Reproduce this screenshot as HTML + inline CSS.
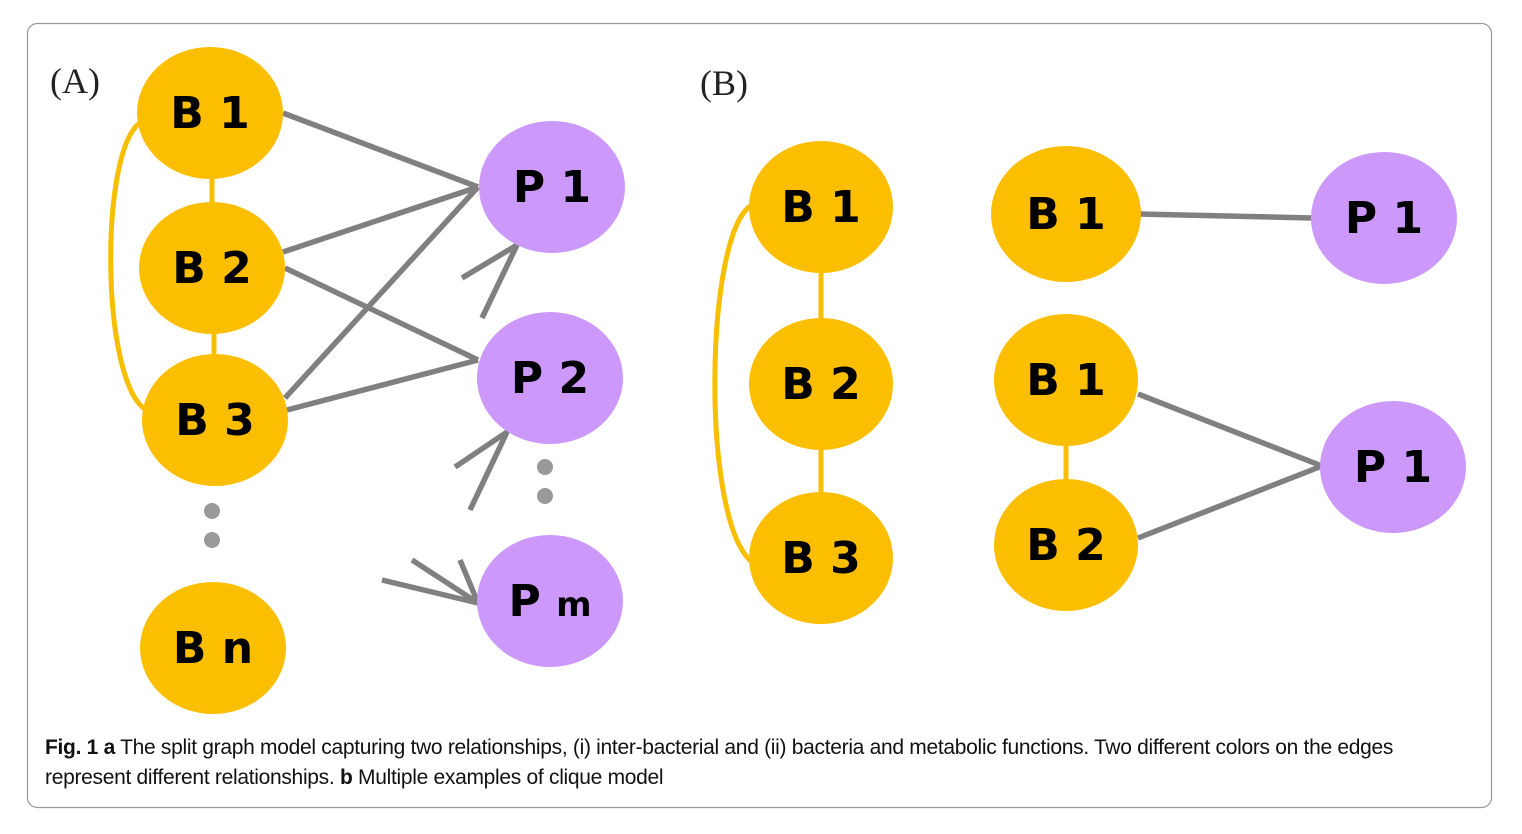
<!DOCTYPE html>
<html><head><style>
body{margin:0;background:#fff;width:1522px;height:834px;overflow:hidden;font-family:"Liberation Sans",sans-serif}
.cap{position:absolute;left:45px;top:733px;width:1420px;font-size:21px;line-height:30px;color:#111;letter-spacing:-0.3px}
</style></head><body>
<svg width="1522" height="834" style="position:absolute;left:0;top:0">
<rect x="27.5" y="23.5" width="1464" height="784" rx="10" fill="none" stroke="#999" stroke-width="1.2"/>
<g font-family="Liberation Serif" font-size="36" fill="#222">
<text x="50" y="93">(A)</text><text x="700" y="95">(B)</text></g>
<g stroke="#F8BE00" stroke-width="5" fill="none">
<path d="M140 123 C100 150 100 380 146 410"/>
<line x1="212" y1="170" x2="212" y2="210"/><line x1="214" y1="325" x2="214" y2="360"/>
<path d="M752 205 C705 230 700 520 752 562"/>
<line x1="821" y1="265" x2="821" y2="325"/><line x1="821" y1="440" x2="821" y2="500"/>
<line x1="1066" y1="440" x2="1066" y2="485"/>
</g>
<g stroke="#808080" stroke-width="5.5" fill="none">
<line x1="283" y1="113" x2="478" y2="187"/><line x1="283" y1="252" x2="478" y2="187"/>
<line x1="285" y1="268" x2="478" y2="360"/><line x1="285" y1="398" x2="478" y2="187"/>
<line x1="287" y1="410" x2="478" y2="360"/>
<polyline points="462,278 517,245 482,318"/>
<polyline points="455,467 507,432 470,510"/>
<line x1="382" y1="580" x2="478" y2="603"/><line x1="412" y1="560" x2="478" y2="603"/><line x1="460" y1="560" x2="478" y2="603"/>
<line x1="1140" y1="214" x2="1312" y2="218"/>
<line x1="1138" y1="394" x2="1322" y2="466"/><line x1="1138" y1="538" x2="1322" y2="466"/>
</g>
<g fill="#999"><circle cx="212" cy="511" r="8"/><circle cx="212" cy="540" r="8"/><circle cx="545" cy="467" r="8"/><circle cx="545" cy="496" r="8"/></g>
<g fill="#FBBE00">
<ellipse cx="210" cy="113" rx="73" ry="66"/><ellipse cx="212" cy="268" rx="73" ry="66"/>
<ellipse cx="215" cy="420" rx="73" ry="66"/><ellipse cx="213" cy="648" rx="73" ry="66"/>
<ellipse cx="821" cy="207" rx="72" ry="66"/><ellipse cx="821" cy="384" rx="72" ry="66"/><ellipse cx="821" cy="558" rx="72" ry="66"/>
<ellipse cx="1066" cy="214" rx="75" ry="68"/><ellipse cx="1066" cy="380" rx="72" ry="66"/><ellipse cx="1066" cy="545" rx="72" ry="66"/>
</g>
<g fill="#CC99FA">
<ellipse cx="552" cy="187" rx="73" ry="66"/><ellipse cx="550" cy="378" rx="73" ry="66"/><ellipse cx="550" cy="601" rx="73" ry="66"/>
<ellipse cx="1384" cy="218" rx="73" ry="66"/><ellipse cx="1393" cy="467" rx="73" ry="66"/>
</g>
<g font-family="DejaVu Sans" font-weight="bold" font-size="44" fill="#000" text-anchor="middle">
<text x="210" y="128">B 1</text><text x="212" y="283">B 2</text><text x="215" y="435">B 3</text><text x="213" y="663">B n</text>
<text x="552" y="202">P 1</text><text x="550" y="393">P 2</text><text x="550" y="616">P <tspan font-size="34">m</tspan></text>
<text x="821" y="222">B 1</text><text x="821" y="399">B 2</text><text x="821" y="573">B 3</text>
<text x="1066" y="229">B 1</text><text x="1066" y="395">B 1</text><text x="1066" y="560">B 2</text>
<text x="1384" y="233">P 1</text><text x="1393" y="482">P 1</text>
</g>
</svg>
<div class="cap"><b>Fig. 1 a</b> The split graph model capturing two relationships, (i) inter-bacterial and (ii) bacteria and metabolic functions. Two different colors on the edges represent different relationships. <b>b</b> Multiple examples of clique model</div>
</body></html>
